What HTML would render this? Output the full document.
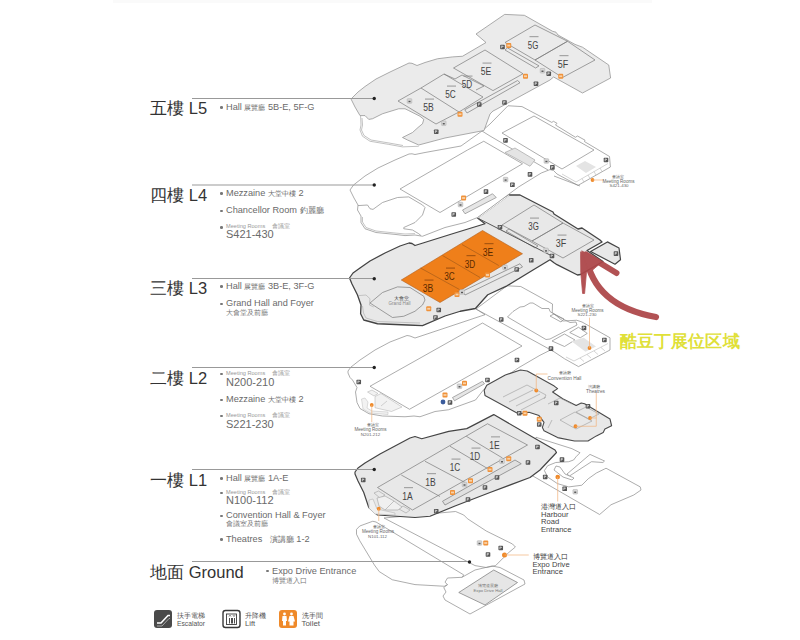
<!DOCTYPE html>
<html><head><meta charset="utf-8">
<style>
html,body{margin:0;padding:0;background:#fff;}
body{width:800px;height:640px;position:relative;overflow:hidden;font-family:"Liberation Sans",sans-serif;color:#555;}
.t{position:absolute;white-space:nowrap;line-height:1;}
.big{font-size:17px;color:#333;}
.big .e{font-size:16.5px;}
.it{font-size:10px;color:#666;}
.sm{font-size:5.5px;color:#888;}
.num{font-size:11.5px;color:#666;}
.b{position:absolute;width:2.6px;height:2.6px;border-radius:50%;background:#777;}
svg{position:absolute;left:0;top:0;font-family:"Liberation Sans",sans-serif;}
.it{font-size:9.2px;color:#6a6a6a;margin-top:-0.5px;}
.it .c{font-size:6.8px;}
.it .c2{font-size:7.5px;}
.sm{font-size:5.6px;color:#999;margin-top:-0.5px;}
.sm .c3{font-size:5.6px;margin-left:5px;}
.num{font-size:11px;color:#6a6a6a;margin-top:-1px;}
.cj{font-size:7px;color:#777;margin-top:-1px;}

</style></head><body>
<div id="topband" style="position:absolute;left:113px;top:0;width:539px;height:3px;background:#fafafa"></div>
<svg width="800" height="640" viewBox="0 0 800 640">

<!-- ===== GROUND ===== -->
<g fill="#fff" stroke="#8a8a8a" stroke-width="0.7" stroke-linejoin="round">
<path d="M356.5,529.4 L359.75,526 L372.75,521.25 L376,522 L463.75,574.9 L462,577.3 L447.5,578 L445,582.2 L447.5,584.6 L444.25,586.25 L415,584.6 L392.25,579.75 L379.25,571.6 L374.4,565 L359.75,540.75 L356.5,534.25 Z"/>
<path d="M384,518 L455.6,511.5 L463.75,515 L467.5,518.75 L486.25,531 L512.5,544 L515.4,547 L508.75,552.5 L503.2,558 L495.6,565.6 L486.25,567.5 L475,565.6 Z"/>
<path d="M462,577.3 L475,570 L492,566 L500,567.5 L524,580 L525,584 L470,614 L445,600 L443,596 L446,592 L443.75,587.5 L447.5,584.6" fill="none"/>
<path d="M458.75,592.5 L493.75,570 L517.5,582.5 L485,605 Z" fill="#e6e6e6" stroke="#777"/>
<path d="M536,437.3 L572,448.7 L580,452.75 L576,456.8 L573.6,460 L568.75,461.7 L555.75,462.5 L547.6,465.75 L544.4,470.6 L547.6,477 L557.4,483.6 L568.75,486.9 L581.75,485.25 L588.25,478.75 L596.4,473 L604.5,469 L606,468.2 L640.25,486.9 L641,490 L633.75,495 L611,504.75 L599.6,514.5 L524.9,471.4 Z"/>
<path d="M567,474 L590,454.4 L604.5,461 L602.9,462.5 L591.5,461.7 L569.5,476 Z" />
<path d="M554,470 L556,466 L560,467 L565,474 L574,478 L572,480 L563,477 Z"/>
</g>
<!-- ===== L1 ===== -->
<g stroke-linejoin="round">
<path d="M355,472 L358,468 L365,463 L380,454 L395,446 L410,438 L415,436.5 L421.75,438.75 L448.75,431.4 L466.75,428.6 L493.75,414.6 L555,450 L556.5,452.5 L540,470 L530,477.5 L490,492.5 L455,506 L430,516.25 L415,517.5 L377.5,515 L368.75,507.5 L363.75,492.5 L360,485 L358,481 L355,474 Z" fill="#e8e8e8" stroke="#444" stroke-width="1.2"/>
<g fill="none" stroke="#7a7a7a" stroke-width="0.7">
<path d="M377.5,487.5 L487.5,423.75 L527.5,445 L412.5,510 Z"/>
<path d="M401.25,475 L440,496.5 M425,461.25 L465,482.5 M450,446.25 L487.5,468.5 M466.25,436.25 L502.5,458"/>
<path d="M442.5,501.25 L515,460 L521.25,463.75 L445,505 Z" fill="#e0e0e0"/>
<path d="M374,493 L378.5,491 L385,495 L380,498 Z M399,509 L403,506 L410,510 L406,513 Z" stroke="#aaa"/>
<path d="M377,498 L385,496 L394,501 L402,507 L398,510 L385,510 L379,506 Z M385,510 L394,501" fill="#f0f0f0" stroke="#aaa"/>
<path d="M369,500 L373,499 L377,509 L395,513 L395,515 L375,514 L369,508 Z" fill="#f0f0f0" stroke="#bbb"/>
</g>
</g>
<!-- ===== L2 ===== -->
<g stroke-linejoin="round">
<path d="M348,371 L351,367 L360,360 L375,350 L390,342 L407,335.5 L410,336 L415,338 L485,314.7 L476,309 L507,285.8 L520.75,286.5 L552.5,304 L552.25,312.4 L562.75,321 L576.75,320.25 L582,322 L610,337.75 L610,350 L578.5,366.6 L564.5,358.75 L554,351.75 L550.5,350 L540,355.25 L519,367.5 L495,383.5 L483.75,389.5 L475.5,400 L448.5,409.75 L435,411.5 L420,416.75 L414,416 L405,416.75 L382.5,416 L369,413.75 L360,408.5 L357,402.5 L355.5,392 L357,387.5 L352.5,380 L350,377.5 L348,373 Z" fill="#fff" stroke="#8a8a8a" stroke-width="0.7"/>
<g fill="none" stroke="#8a8a8a" stroke-width="0.7">
<path d="M370,386.25 L482.5,323 L522,346 L409.5,409.25 Z"/>
<path d="M476,309 L550,349.5"/>
<path d="M452.5,397.5 L482.5,381.25 L484.5,383.75 L454.5,400.75 Z" fill="#e6e6e6"/>
<path d="M367.5,392 L372,390 L378,393.5 L374,396 Z M375,396.5 L381,393.5 L402,407 L391.5,411.5 L375,407.75 Z M381,406 L387,401" fill="#f2f2f2" stroke="#aaa" stroke-width="0.5"/>
<path d="M361.5,399 L365,398 L368,402 L367,408 L372,411 L388,412 L388,414.5 L370,413 L363,409 Z" fill="#f2f2f2" stroke="#bbb" stroke-width="0.5"/>
<path d="M507.5,317 L513,311.5 L520,307 L524,306.5 L530,303 L533,303 L542,308.5 L549,308.5 L550,311.5 L553,313.5 L565,320 L570,322.5 L576,322 L577,325 L550,339 L546,339.5 Z"/>
<path d="M550,316 L554,314 L564,319 L561,322 Z"/>
<path d="M552,341 L564.5,334 L575,340 L564.5,346.5 Z M569.75,332.5 L578.5,327.25 L587.25,333.4 L580.25,337.75 Z"/>
<path d="M566,357 L574,361 L608,343.5 M580,358 L584,361.5 M587,354.5 L591,358 M594,351 L598,354.5 M601,347.5 L605,351" stroke="#aaa" stroke-width="0.5"/>
</g>
<path d="M571.5,341.25 L583.75,337.75 L596,346.5 L585.5,351.75 Z" fill="#e4e4e4" stroke="none"/>
<path d="M484.2,390.3 L486.75,385.25 L505.3,375 L520.5,370 L527.25,371 L554.25,386.1 L557.6,388.6 L552.6,392 L562.7,398.75 L576.2,405.5 L581.25,403 L584.6,403.8 L610,419 L611.6,425.75 L604.9,429.1 L603.2,432.5 L596.4,435.9 L588,441 L574.5,441 L557.6,437.6 L544,430.8 L542.4,427.4 L544,422.4 L539,415.6 L529,412.25 L518.8,414 L485,395.4 Z" fill="#e8e8e8" stroke="#4a4a4a" stroke-width="1.1"/>
<g fill="none" stroke="#9a9a9a" stroke-width="0.6">
<path d="M503,397 L527,385 L546,395 L544,399 M509,402 L533,390 M516,406 L540,394 M521,410 L546,397 M548,404 L560,398 L572,404 M552,420 L548,428 M560,420 L575,412 L592,421 L576,429 Z M576,412 L586,407 L599,414 L589,419 Z"/>
</g>
</g>
<!-- ===== L3 ===== -->
<g stroke-linejoin="round">
<path d="M349.5,278 L353,273 L360,268 L370,261 L385,253 L400,246 L409,243 L412,243.5 L415,245.5 L423,243 L452.5,233.75 L485,223.75 L477.5,218 L509,195 L520,195 L553,212 L554,214 L578,229 L582,228 L600,240 L602,242 L587,250.5 L603,261.5 L580.5,274.5 L577.5,275 L557,264.7 L554,262.7 L550,259.7 L533,270 L507,285.8 L487.75,294.75 L475.4,308.5 L460.25,311.25 L445,316 L422.5,325.6 L407.5,325 L377.5,323.75 L363.75,320 L360.6,313.75 L361,305 L357.5,295 L352,284 Z" fill="#e8e8e8" stroke="#444" stroke-width="1.3"/>
<path d="M590.6,251.5 L607.4,241.9 L619,248 L620.5,259.7 L615,264.2 Z" fill="#e8e8e8" stroke="#444" stroke-width="1.2"/>
<g fill="none" stroke="#7a7a7a" stroke-width="0.7">
<path d="M502,225 L534,205 L563,223 L532,241 Z M532,241 L563,223 L594,240 L563,258 Z"/>
<path d="M506,231 L509,229 L538,246 L535,248 Z"/>
<path d="M462.5,291.25 L520,263.75 L522.5,267 L465,295 Z"/>
<path d="M370,303 L382.5,292.5 L397.5,286.9 L410,287.5 L423.75,296.25 L425,300 L422.5,305 L415,311.25 L403.75,316.25 L392.5,317.5 Z"/>
<path d="M358.75,295.6 L366,295 L370,298.75 L369.4,305 L373.75,307 M362.5,306 L363.5,313 L366,318 L377.5,321.5 L405,322.5 L420,323" stroke="#aaa" stroke-width="0.6"/>
</g>
<path d="M477.5,218 L509,195" stroke="#fff" stroke-width="1.5" fill="none"/><path d="M477.5,218 L487.5,206.5 L509,194.8" stroke="#8a8a8a" stroke-width="0.7" fill="none"/>
<path d="M477.5,218 L552,256" stroke="#555" stroke-width="1" fill="none"/>
<path d="M401.25,280 L482.5,230.5 L522.5,253.75 L440,302.5 Z" fill="#ef7f1a" stroke="#b06020" stroke-width="0.6"/>
<path d="M420.5,268 L459.5,289.5 M442.5,255.5 L480,277.5 M462,244.5 L498.75,265.5" stroke="#9a5518" stroke-width="0.6" fill="none"/>
</g>
<!-- ===== L4 ===== -->
<g stroke-linejoin="round">
<path d="M353.5,185 L365,176 L378,168 L395,160 L409,154 L412,153.8 L415,154.5 L425,152.5 L461,146 L482,131 L490,124 L508,105.75 L522,106.6 L551.75,122.4 L553.5,121.3 L557,123.3 L555.5,125 L575.4,137.25 L577.5,136 L585,140.2 L584.5,141.6 L609.5,156.5 L610.4,167 L578,185.4 L557,174 L553.5,170.5 L550,169.6 L541.25,173 L518.5,187 L477.5,217.5 L465,222.5 L445,227.5 L422.5,236.25 L415,235 L405,235.6 L395,234.4 L376,232.5 L365,228.75 L361,222.5 L361,216 L357.5,210 L358,205 L354,198 L350,190 Z" fill="#fff" stroke="#8a8a8a" stroke-width="0.7"/>
<g fill="none" stroke="#8a8a8a" stroke-width="0.7">
<path d="M358,205.6 L367.5,205 L370,208.75 L373,209.4 L382.5,202.5 L397.5,197.5 L408.75,196.9 L422.5,205 L425,207.5 L422.5,215 L415,222.5 L403.75,227.5 L403.75,228.75 L412.5,230 L418.75,233.75 L421,235.6"/>
<path d="M362.5,217 L362.5,222 L366,227.5 L376,231 L395,233 L405,234 L415,233.6" stroke="#aaa"/>
<path d="M400,189 L467.5,150 L483.75,141.25 L522.5,163.75 L440,212.5 Z"/>
<path d="M502,133 L534,116 L594,150 L562,169 Z"/>
<path d="M482,131 L490,136 L548,170"/>
<path d="M462.5,210 L492.5,193.75 L496.25,197.5 L465,213.75 Z" fill="#e6e6e6"/>
<path d="M554,176 L580,186"/>
</g>
<path d="M505,152.5 L515,148 L535,160 L530,166.25 Z" fill="#e4e4e4" stroke="#999" stroke-width="0.6"/>
<path d="M576,166 L585,161 L596,167 L586,173 Z" fill="#e4e4e4" stroke="none"/>
<path d="M562,174 L576,182 L608,163.5 M582,178.5 L584,182 M588,175 L590,178.5 M594,171.5 L596,175 M600,168 L602,171.5" stroke="#aaa" stroke-width="0.5" fill="none"/>

</g>
<!-- ===== L5 ===== -->
<g stroke-linejoin="round">
<path d="M360.6,116 L361,125 L360,130 L362.5,136.25 L370,141.25 L388.75,144.4 L402.5,146.9 L418.75,146.25 M362,118 L362.5,125 L361.5,130 L364,135.5 L371,140 L389,143 L403,145.5" fill="none" stroke="#999" stroke-width="0.6"/>
<path d="M351,99 L358,92 L365,86.5 L376,79 L390,72 L409,63 L412,63.3 L417,65.5 L425,62.5 L437.5,58.75 L452.5,56.9 L462.5,56.25 L486,42.5 L476,34 L504.7,14.4 L524.4,15.3 L552.5,31.25 L556,32.2 L558,35 L575,44.4 L582.5,47.2 L608.75,65 L610.6,78 L582.5,93 L553.6,77 L550,80 L496,109.5 L493,111 L490,114 L484,130.5 L445,138 L418.75,145 L407.5,140 L402.5,137.5 L412.5,132.5 L418,127.5 L422.5,123.75 L423.75,119.4 L420,116.25 L408.75,110.6 L405,108.75 L398.75,108.75 L382.5,113.75 L372.5,118.75 L368.75,119.4 L365,115.6 L360,115.6 L355,107 Z" fill="#ebebeb" stroke="#8a8a8a" stroke-width="0.7"/>
<g fill="none" stroke="#7a7a7a" stroke-width="0.7">
<path d="M398,101 L421,88 L459,112 L436,124 Z"/>
<path d="M421,88 L444,74 L483,97 L459,112"/>
<path d="M455,79 L462,75 L484,86 L476,90 M444,74 L455,79"/>
<path d="M453.5,68 L485,50 L523,73.75 L493,90.6 Z"/>
<path d="M505,42.5 L535,25 L567.5,41.25 L535,60 Z M535,60 L567.5,41.25 L595,60 L562.5,77.5 Z"/>
<path d="M464.75,109.75 L517.6,80.5 L520,82.75 L467,113 Z"/>
<path d="M505,50 L507.5,47.9 L539,65.9 L535.6,68 Z"/>
</g>
</g>
<!-- level lines -->
<g stroke="#999" stroke-width="1" fill="none">
<line x1="192" y1="98.5" x2="374" y2="98.5"/>
<line x1="192" y1="185" x2="374" y2="185"/>
<line x1="192" y1="278.5" x2="374" y2="278.5"/>
<line x1="192" y1="367.5" x2="374" y2="367.5"/>
<line x1="192" y1="469.5" x2="374" y2="469.5"/>
<line x1="192" y1="561.5" x2="469" y2="561.5"/>
</g>
<text x="428.5" y="111" text-anchor="middle" font-size="11.5" fill="#444" textLength="10.5" lengthAdjust="spacingAndGlyphs">5B</text>
<rect x="425.00" y="98.50" width="9" height="1.2" fill="#888" opacity="0.7"/>
<text x="450.5" y="98" text-anchor="middle" font-size="11.5" fill="#444" textLength="10.5" lengthAdjust="spacingAndGlyphs">5C</text>
<rect x="447.00" y="85.50" width="9" height="1.2" fill="#888" opacity="0.7"/>
<text x="467" y="88" text-anchor="middle" font-size="11.5" fill="#444" textLength="10.5" lengthAdjust="spacingAndGlyphs">5D</text>
<rect x="463.50" y="75.50" width="9" height="1.2" fill="#888" opacity="0.7"/>
<text x="486" y="75" text-anchor="middle" font-size="11.5" fill="#444" textLength="10.5" lengthAdjust="spacingAndGlyphs">5E</text>
<rect x="482.50" y="62.50" width="9" height="1.2" fill="#888" opacity="0.7"/>
<text x="533" y="48.5" text-anchor="middle" font-size="11.5" fill="#444" textLength="10.5" lengthAdjust="spacingAndGlyphs">5G</text>
<rect x="529.50" y="36.00" width="9" height="1.2" fill="#888" opacity="0.7"/>
<text x="563" y="67.5" text-anchor="middle" font-size="11.5" fill="#444" textLength="10.5" lengthAdjust="spacingAndGlyphs">5F</text>
<rect x="559.50" y="55.00" width="9" height="1.2" fill="#888" opacity="0.7"/>
<text x="428" y="292" text-anchor="middle" font-size="11.5" fill="#5a2a00" textLength="10.5" lengthAdjust="spacingAndGlyphs">3B</text>
<rect x="424.50" y="279.50" width="9" height="1.2" fill="#7a3a08" opacity="0.6"/>
<text x="449.5" y="280" text-anchor="middle" font-size="11.5" fill="#5a2a00" textLength="10.5" lengthAdjust="spacingAndGlyphs">3C</text>
<rect x="446.00" y="267.50" width="9" height="1.2" fill="#7a3a08" opacity="0.6"/>
<text x="470" y="267.5" text-anchor="middle" font-size="11.5" fill="#5a2a00" textLength="10.5" lengthAdjust="spacingAndGlyphs">3D</text>
<rect x="466.50" y="255.00" width="9" height="1.2" fill="#7a3a08" opacity="0.6"/>
<text x="488" y="255.5" text-anchor="middle" font-size="11.5" fill="#5a2a00" textLength="10.5" lengthAdjust="spacingAndGlyphs">3E</text>
<rect x="484.50" y="243.00" width="9" height="1.2" fill="#7a3a08" opacity="0.6"/>
<text x="533.5" y="230" text-anchor="middle" font-size="11.5" fill="#444" textLength="10.5" lengthAdjust="spacingAndGlyphs">3G</text>
<rect x="530.00" y="217.50" width="9" height="1.2" fill="#888" opacity="0.7"/>
<text x="561" y="247" text-anchor="middle" font-size="11.5" fill="#444" textLength="10.5" lengthAdjust="spacingAndGlyphs">3F</text>
<rect x="557.50" y="234.50" width="9" height="1.2" fill="#888" opacity="0.7"/>
<text x="407.5" y="499.5" text-anchor="middle" font-size="11.5" fill="#444" textLength="10.5" lengthAdjust="spacingAndGlyphs">1A</text>
<rect x="404.00" y="487.00" width="9" height="1.2" fill="#888" opacity="0.7"/>
<text x="430.5" y="485.5" text-anchor="middle" font-size="11.5" fill="#444" textLength="10.5" lengthAdjust="spacingAndGlyphs">1B</text>
<rect x="427.00" y="473.00" width="9" height="1.2" fill="#888" opacity="0.7"/>
<text x="455" y="471" text-anchor="middle" font-size="11.5" fill="#444" textLength="10.5" lengthAdjust="spacingAndGlyphs">1C</text>
<rect x="451.50" y="458.50" width="9" height="1.2" fill="#888" opacity="0.7"/>
<text x="475" y="460" text-anchor="middle" font-size="11.5" fill="#444" textLength="10.5" lengthAdjust="spacingAndGlyphs">1D</text>
<rect x="471.50" y="447.50" width="9" height="1.2" fill="#888" opacity="0.7"/>
<text x="494.5" y="448.75" text-anchor="middle" font-size="11.5" fill="#444" textLength="10.5" lengthAdjust="spacingAndGlyphs">1E</text>
<rect x="491.00" y="436.25" width="9" height="1.2" fill="#888" opacity="0.7"/>
<rect x="433.95" y="129.45" width="4.6" height="4.6" rx="0.7" fill="#555"/><path d="M435.35,133.05 L435.35,130.55 L437.15,131.15 L435.35,131.85" stroke="#eee" stroke-width="0.6" fill="none"/>
<rect x="476.95" y="102.20" width="4.6" height="4.6" rx="0.7" fill="#555"/><path d="M478.35,105.80 L478.35,103.30 L480.15,103.90 L478.35,104.60" stroke="#eee" stroke-width="0.6" fill="none"/>
<rect x="502.20" y="100.20" width="4.6" height="4.6" rx="0.7" fill="#555"/><path d="M503.60,103.80 L503.60,101.30 L505.40,101.90 L503.60,102.60" stroke="#eee" stroke-width="0.6" fill="none"/>
<rect x="533.70" y="81.45" width="4.6" height="4.6" rx="0.7" fill="#555"/><path d="M535.10,85.05 L535.10,82.55 L536.90,83.15 L535.10,83.85" stroke="#eee" stroke-width="0.6" fill="none"/>
<rect x="500.20" y="44.70" width="4.6" height="4.6" rx="0.7" fill="#555"/><path d="M501.60,48.30 L501.60,45.80 L503.40,46.40 L501.60,47.10" stroke="#eee" stroke-width="0.6" fill="none"/>
<rect x="546.45" y="71.45" width="4.6" height="4.6" rx="0.7" fill="#555"/><path d="M547.85,75.05 L547.85,72.55 L549.65,73.15 L547.85,73.85" stroke="#eee" stroke-width="0.6" fill="none"/>
<rect x="503.20" y="138.10" width="4.6" height="4.6" rx="0.7" fill="#555"/><path d="M504.60,141.70 L504.60,139.20 L506.40,139.80 L504.60,140.50" stroke="#eee" stroke-width="0.6" fill="none"/>
<rect x="550.10" y="165.10" width="4.6" height="4.6" rx="0.7" fill="#555"/><path d="M551.50,168.70 L551.50,166.20 L553.30,166.80 L551.50,167.50" stroke="#eee" stroke-width="0.6" fill="none"/>
<rect x="527.70" y="172.10" width="4.6" height="4.6" rx="0.7" fill="#555"/><path d="M529.10,175.70 L529.10,173.20 L530.90,173.80 L529.10,174.50" stroke="#eee" stroke-width="0.6" fill="none"/>
<rect x="510.10" y="182.50" width="4.6" height="4.6" rx="0.7" fill="#555"/><path d="M511.50,186.10 L511.50,183.60 L513.30,184.20 L511.50,184.90" stroke="#eee" stroke-width="0.6" fill="none"/>
<rect x="483.70" y="189.30" width="4.6" height="4.6" rx="0.7" fill="#555"/><path d="M485.10,192.90 L485.10,190.40 L486.90,191.00 L485.10,191.70" stroke="#eee" stroke-width="0.6" fill="none"/>
<rect x="603.70" y="157.70" width="4.6" height="4.6" rx="0.7" fill="#555"/><path d="M605.10,161.30 L605.10,158.80 L606.90,159.40 L605.10,160.10" stroke="#eee" stroke-width="0.6" fill="none"/>
<rect x="451.45" y="212.20" width="4.6" height="4.6" rx="0.7" fill="#555"/><path d="M452.85,215.80 L452.85,213.30 L454.65,213.90 L452.85,214.60" stroke="#eee" stroke-width="0.6" fill="none"/>
<rect x="497.70" y="224.90" width="4.6" height="4.6" rx="0.7" fill="#555"/><path d="M499.10,228.50 L499.10,226.00 L500.90,226.60 L499.10,227.30" stroke="#eee" stroke-width="0.6" fill="none"/>
<rect x="528.95" y="258.00" width="4.6" height="4.6" rx="0.7" fill="#555"/><path d="M530.35,261.60 L530.35,259.10 L532.15,259.70 L530.35,260.40" stroke="#eee" stroke-width="0.6" fill="none"/>
<rect x="514.45" y="267.20" width="4.6" height="4.6" rx="0.7" fill="#555"/><path d="M515.85,270.80 L515.85,268.30 L517.65,268.90 L515.85,269.60" stroke="#eee" stroke-width="0.6" fill="none"/>
<rect x="549.70" y="253.70" width="4.6" height="4.6" rx="0.7" fill="#555"/><path d="M551.10,257.30 L551.10,254.80 L552.90,255.40 L551.10,256.10" stroke="#eee" stroke-width="0.6" fill="none"/>
<rect x="436.45" y="307.70" width="4.6" height="4.6" rx="0.7" fill="#555"/><path d="M437.85,311.30 L437.85,308.80 L439.65,309.40 L437.85,310.10" stroke="#eee" stroke-width="0.6" fill="none"/>
<rect x="433.20" y="315.20" width="4.6" height="4.6" rx="0.7" fill="#555"/><path d="M434.60,318.80 L434.60,316.30 L436.40,316.90 L434.60,317.60" stroke="#eee" stroke-width="0.6" fill="none"/>
<rect x="613.70" y="251.30" width="4.6" height="4.6" rx="0.7" fill="#555"/><path d="M615.10,254.90 L615.10,252.40 L616.90,253.00 L615.10,253.70" stroke="#eee" stroke-width="0.6" fill="none"/>
<rect x="356.45" y="379.70" width="4.6" height="4.6" rx="0.7" fill="#555"/><path d="M357.85,383.30 L357.85,380.80 L359.65,381.40 L357.85,382.10" stroke="#eee" stroke-width="0.6" fill="none"/>
<rect x="498.95" y="317.20" width="4.6" height="4.6" rx="0.7" fill="#555"/><path d="M500.35,320.80 L500.35,318.30 L502.15,318.90 L500.35,319.60" stroke="#eee" stroke-width="0.6" fill="none"/>
<rect x="514.70" y="357.70" width="4.6" height="4.6" rx="0.7" fill="#555"/><path d="M516.10,361.30 L516.10,358.80 L517.90,359.40 L516.10,360.10" stroke="#eee" stroke-width="0.6" fill="none"/>
<rect x="485.20" y="377.70" width="4.6" height="4.6" rx="0.7" fill="#555"/><path d="M486.60,381.30 L486.60,378.80 L488.40,379.40 L486.60,380.10" stroke="#eee" stroke-width="0.6" fill="none"/>
<rect x="447.70" y="400.20" width="4.6" height="4.6" rx="0.7" fill="#555"/><path d="M449.10,403.80 L449.10,401.30 L450.90,401.90 L449.10,402.60" stroke="#eee" stroke-width="0.6" fill="none"/>
<rect x="548.70" y="346.30" width="4.6" height="4.6" rx="0.7" fill="#555"/><path d="M550.10,349.90 L550.10,347.40 L551.90,348.00 L550.10,348.70" stroke="#eee" stroke-width="0.6" fill="none"/>
<rect x="581.70" y="325.70" width="4.6" height="4.6" rx="0.7" fill="#555"/><path d="M583.10,329.30 L583.10,326.80 L584.90,327.40 L583.10,328.10" stroke="#eee" stroke-width="0.6" fill="none"/>
<rect x="602.10" y="337.70" width="4.6" height="4.6" rx="0.7" fill="#555"/><path d="M603.50,341.30 L603.50,338.80 L605.30,339.40 L603.50,340.10" stroke="#eee" stroke-width="0.6" fill="none"/>
<rect x="553.95" y="400.70" width="4.6" height="4.6" rx="0.7" fill="#555"/><path d="M555.35,404.30 L555.35,401.80 L557.15,402.40 L555.35,403.10" stroke="#eee" stroke-width="0.6" fill="none"/>
<rect x="585.70" y="403.95" width="4.6" height="4.6" rx="0.7" fill="#555"/><path d="M587.10,407.55 L587.10,405.05 L588.90,405.65 L587.10,406.35" stroke="#eee" stroke-width="0.6" fill="none"/>
<rect x="516.95" y="410.95" width="4.6" height="4.6" rx="0.7" fill="#555"/><path d="M518.35,414.55 L518.35,412.05 L520.15,412.65 L518.35,413.35" stroke="#eee" stroke-width="0.6" fill="none"/>
<rect x="536.95" y="422.20" width="4.6" height="4.6" rx="0.7" fill="#555"/><path d="M538.35,425.80 L538.35,423.30 L540.15,423.90 L538.35,424.60" stroke="#eee" stroke-width="0.6" fill="none"/>
<rect x="360.95" y="477.70" width="4.6" height="4.6" rx="0.7" fill="#555"/><path d="M362.35,481.30 L362.35,478.80 L364.15,479.40 L362.35,480.10" stroke="#eee" stroke-width="0.6" fill="none"/>
<rect x="433.95" y="508.95" width="4.6" height="4.6" rx="0.7" fill="#555"/><path d="M435.35,512.55 L435.35,510.05 L437.15,510.65 L435.35,511.35" stroke="#eee" stroke-width="0.6" fill="none"/>
<rect x="525.70" y="460.20" width="4.6" height="4.6" rx="0.7" fill="#555"/><path d="M527.10,463.80 L527.10,461.30 L528.90,461.90 L527.10,462.60" stroke="#eee" stroke-width="0.6" fill="none"/>
<rect x="535.20" y="444.70" width="4.6" height="4.6" rx="0.7" fill="#555"/><path d="M536.60,448.30 L536.60,445.80 L538.40,446.40 L536.60,447.10" stroke="#eee" stroke-width="0.6" fill="none"/>
<rect x="494.70" y="475.20" width="4.6" height="4.6" rx="0.7" fill="#555"/><path d="M496.10,478.80 L496.10,476.30 L497.90,476.90 L496.10,477.60" stroke="#eee" stroke-width="0.6" fill="none"/>
<rect x="482.70" y="485.20" width="4.6" height="4.6" rx="0.7" fill="#555"/><path d="M484.10,488.80 L484.10,486.30 L485.90,486.90 L484.10,487.60" stroke="#eee" stroke-width="0.6" fill="none"/>
<rect x="465.70" y="497.20" width="4.6" height="4.6" rx="0.7" fill="#555"/><path d="M467.10,500.80 L467.10,498.30 L468.90,498.90 L467.10,499.60" stroke="#eee" stroke-width="0.6" fill="none"/>
<rect x="498.45" y="545.70" width="4.6" height="4.6" rx="0.7" fill="#555"/><path d="M499.85,549.30 L499.85,546.80 L501.65,547.40 L499.85,548.10" stroke="#eee" stroke-width="0.6" fill="none"/>
<rect x="485.70" y="552.20" width="4.6" height="4.6" rx="0.7" fill="#555"/><path d="M487.10,555.80 L487.10,553.30 L488.90,553.90 L487.10,554.60" stroke="#eee" stroke-width="0.6" fill="none"/>
<rect x="559.70" y="457.30" width="4.6" height="4.6" rx="0.7" fill="#555"/><path d="M561.10,460.90 L561.10,458.40 L562.90,459.00 L561.10,459.70" stroke="#eee" stroke-width="0.6" fill="none"/>
<rect x="542.90" y="474.70" width="4.6" height="4.6" rx="0.7" fill="#555"/><path d="M544.30,478.30 L544.30,475.80 L546.10,476.40 L544.30,477.10" stroke="#eee" stroke-width="0.6" fill="none"/>
<rect x="562.40" y="486.50" width="4.6" height="4.6" rx="0.7" fill="#555"/><path d="M563.80,490.10 L563.80,487.60 L565.60,488.20 L563.80,488.90" stroke="#eee" stroke-width="0.6" fill="none"/>
<rect x="407.20" y="98.70" width="4.6" height="4.6" rx="0.7" fill="#d6d6d6" stroke="#aaa" stroke-width="0.5"/><rect x="408.50" y="100.80" width="2" height="1.4" fill="#555"/>
<rect x="441.45" y="120.95" width="4.6" height="4.6" rx="0.7" fill="#d6d6d6" stroke="#aaa" stroke-width="0.5"/><rect x="442.75" y="123.05" width="2" height="1.4" fill="#555"/>
<rect x="540.20" y="68.45" width="4.6" height="4.6" rx="0.7" fill="#d6d6d6" stroke="#aaa" stroke-width="0.5"/><rect x="541.50" y="70.55" width="2" height="1.4" fill="#555"/>
<rect x="544.10" y="158.70" width="4.6" height="4.6" rx="0.7" fill="#d6d6d6" stroke="#aaa" stroke-width="0.5"/><rect x="545.40" y="160.80" width="2" height="1.4" fill="#555"/>
<rect x="503.30" y="177.30" width="4.6" height="4.6" rx="0.7" fill="#d6d6d6" stroke="#aaa" stroke-width="0.5"/><rect x="504.60" y="179.40" width="2" height="1.4" fill="#555"/>
<rect x="458.20" y="202.20" width="4.6" height="4.6" rx="0.7" fill="#d6d6d6" stroke="#aaa" stroke-width="0.5"/><rect x="459.50" y="204.30" width="2" height="1.4" fill="#555"/>
<rect x="543.70" y="248.10" width="4.6" height="4.6" rx="0.7" fill="#d6d6d6" stroke="#aaa" stroke-width="0.5"/><rect x="545.00" y="250.20" width="2" height="1.4" fill="#555"/>
<rect x="502.70" y="265.10" width="4.6" height="4.6" rx="0.7" fill="#d6d6d6" stroke="#aaa" stroke-width="0.5"/><rect x="504.00" y="267.20" width="2" height="1.4" fill="#555"/>
<rect x="459.70" y="289.70" width="4.6" height="4.6" rx="0.7" fill="#d6d6d6" stroke="#aaa" stroke-width="0.5"/><rect x="461.00" y="291.80" width="2" height="1.4" fill="#555"/>
<rect x="457.20" y="383.95" width="4.6" height="4.6" rx="0.7" fill="#d6d6d6" stroke="#aaa" stroke-width="0.5"/><rect x="458.50" y="386.05" width="2" height="1.4" fill="#555"/>
<rect x="462.20" y="482.20" width="4.6" height="4.6" rx="0.7" fill="#d6d6d6" stroke="#aaa" stroke-width="0.5"/><rect x="463.50" y="484.30" width="2" height="1.4" fill="#555"/>
<rect x="499.70" y="458.95" width="4.6" height="4.6" rx="0.7" fill="#d6d6d6" stroke="#aaa" stroke-width="0.5"/><rect x="501.00" y="461.05" width="2" height="1.4" fill="#555"/>
<rect x="477.20" y="540.70" width="4.6" height="4.6" rx="0.7" fill="#d6d6d6" stroke="#aaa" stroke-width="0.5"/><rect x="478.50" y="542.80" width="2" height="1.4" fill="#555"/>
<rect x="572.95" y="489.45" width="4.6" height="4.6" rx="0.7" fill="#d6d6d6" stroke="#aaa" stroke-width="0.5"/><rect x="574.25" y="491.55" width="2" height="1.4" fill="#555"/>
<rect x="457.50" y="111.75" width="5" height="5" rx="0.9" fill="#f0923a"/><rect x="458.50" y="113.35" width="3" height="1.8" fill="#f8d2a8"/>
<rect x="523.00" y="73.75" width="5" height="5" rx="0.9" fill="#f0923a"/><rect x="524.00" y="75.35" width="3" height="1.8" fill="#f8d2a8"/>
<rect x="506.25" y="43.00" width="5" height="5" rx="0.9" fill="#f0923a"/><rect x="507.25" y="44.60" width="3" height="1.8" fill="#f8d2a8"/>
<rect x="558.25" y="73.75" width="5" height="5" rx="0.9" fill="#f0923a"/><rect x="559.25" y="75.35" width="3" height="1.8" fill="#f8d2a8"/>
<rect x="461.10" y="195.50" width="5" height="5" rx="0.9" fill="#f0923a"/><rect x="462.10" y="197.10" width="3" height="1.8" fill="#f8d2a8"/>
<rect x="485.00" y="272.50" width="5" height="5" rx="0.9" fill="#f0923a"/><rect x="486.00" y="274.10" width="3" height="1.8" fill="#f8d2a8"/>
<rect x="454.50" y="292.00" width="5" height="5" rx="0.9" fill="#f0923a"/><rect x="455.50" y="293.60" width="3" height="1.8" fill="#f8d2a8"/>
<rect x="426.25" y="306.25" width="5" height="5" rx="0.9" fill="#f0923a"/><rect x="427.25" y="307.85" width="3" height="1.8" fill="#f8d2a8"/>
<rect x="462.00" y="380.75" width="5" height="5" rx="0.9" fill="#f0923a"/><rect x="463.00" y="382.35" width="3" height="1.8" fill="#f8d2a8"/>
<rect x="442.50" y="392.50" width="5" height="5" rx="0.9" fill="#f0923a"/><rect x="443.50" y="394.10" width="3" height="1.8" fill="#f8d2a8"/>
<rect x="522.50" y="410.75" width="5" height="5" rx="0.9" fill="#f0923a"/><rect x="523.50" y="412.35" width="3" height="1.8" fill="#f8d2a8"/>
<rect x="536.75" y="416.75" width="5" height="5" rx="0.9" fill="#f0923a"/><rect x="537.75" y="418.35" width="3" height="1.8" fill="#f8d2a8"/>
<rect x="450.00" y="490.00" width="5" height="5" rx="0.9" fill="#f0923a"/><rect x="451.00" y="491.60" width="3" height="1.8" fill="#f8d2a8"/>
<rect x="468.00" y="478.25" width="5" height="5" rx="0.9" fill="#f0923a"/><rect x="469.00" y="479.85" width="3" height="1.8" fill="#f8d2a8"/>
<rect x="487.50" y="467.00" width="5" height="5" rx="0.9" fill="#f0923a"/><rect x="488.50" y="468.60" width="3" height="1.8" fill="#f8d2a8"/>
<rect x="506.25" y="456.25" width="5" height="5" rx="0.9" fill="#f0923a"/><rect x="507.25" y="457.85" width="3" height="1.8" fill="#f8d2a8"/>
<rect x="483.25" y="540.50" width="5" height="5" rx="0.9" fill="#f0923a"/><rect x="484.25" y="542.10" width="3" height="1.8" fill="#f8d2a8"/>
<circle cx="443" cy="402" r="2.4" fill="#3b5c9c"/>
<circle cx="374.25" cy="98.5" r="1.7" fill="#222"/>
<circle cx="374.25" cy="185" r="1.7" fill="#222"/>
<circle cx="374.25" cy="278.75" r="1.7" fill="#222"/>
<circle cx="374.25" cy="367.5" r="1.7" fill="#222"/>
<circle cx="374.25" cy="469.5" r="1.7" fill="#222"/>
<circle cx="469.5" cy="562" r="1.7" fill="#222"/>
<circle cx="592.5" cy="180" r="1.9" fill="#ef8a2a"/>
<path d="M592.5,180 L604,180" stroke="#f2b27a" stroke-width="0.7" fill="none"/>
<text x="618" y="177.5" text-anchor="middle" font-size="3.8" fill="#666">會議室</text>
<text x="618.5" y="182.5" text-anchor="middle" font-size="4.6" fill="#666">Meeting Rooms</text>
<text x="619" y="187" text-anchor="middle" font-size="4.4" fill="#666">S421-430</text>
<circle cx="371.75" cy="405" r="1.9" fill="#ef8a2a"/>
<path d="M371.75,405 L371.75,422" stroke="#f2b27a" stroke-width="0.7" fill="none"/>
<text x="373" y="425.5" text-anchor="middle" font-size="3.8" fill="#666">會議室</text>
<text x="370.5" y="431" text-anchor="middle" font-size="4.6" fill="#666">Meeting Rooms</text>
<text x="370.5" y="436" text-anchor="middle" font-size="4.4" fill="#666">N201-212</text>
<circle cx="589.5" cy="348" r="1.9" fill="#ef8a2a"/>
<path d="M589.5,348 L589.5,317.6" stroke="#f2b27a" stroke-width="0.7" fill="none"/>
<text x="588" y="306.5" text-anchor="middle" font-size="3.8" fill="#666">會議室</text>
<text x="587.5" y="311.5" text-anchor="middle" font-size="4.6" fill="#666">Meeting Rooms</text>
<text x="587" y="316" text-anchor="middle" font-size="4.4" fill="#666">S221-230</text>
<circle cx="536.25" cy="390.5" r="1.9" fill="#ef8a2a"/>
<path d="M536.25,390.5 L536.25,374 L547.5,374" stroke="#f2b27a" stroke-width="0.7" fill="none"/>
<text x="565" y="373.5" text-anchor="middle" font-size="3.8" fill="#666">會議廳</text>
<text x="564.5" y="379.5" text-anchor="middle" font-size="4.8" fill="#666">Convention Hall</text>
<circle cx="590" cy="418" r="1.9" fill="#ef8a2a"/>
<circle cx="575.5" cy="426.25" r="1.9" fill="#ef8a2a"/>
<path d="M596.25,393 L596.25,426.25 L575.5,426.25 M590,418 L596.25,418" stroke="#f2b27a" stroke-width="0.7" fill="none"/>
<text x="594" y="387.5" text-anchor="middle" font-size="3.8" fill="#666">演講廳</text>
<text x="595.5" y="392.5" text-anchor="middle" font-size="4.8" fill="#666">Theatres</text>
<circle cx="378.75" cy="508.75" r="1.9" fill="#ef8a2a"/>
<path d="M378.75,508.75 L378.75,521" stroke="#f2b27a" stroke-width="0.7" fill="none"/>
<text x="379" y="527.5" text-anchor="middle" font-size="3.8" fill="#666">會議室</text>
<text x="378" y="533" text-anchor="middle" font-size="4.6" fill="#666">Meeting Rooms</text>
<text x="377.5" y="538" text-anchor="middle" font-size="4.4" fill="#666">N101-112</text>
<circle cx="557.7" cy="477" r="2.3" fill="#ef8a2a"/>
<path d="M557.7,477 L557.7,501.5" stroke="#f2b27a" stroke-width="0.7" fill="none"/>
<text x="541" y="508.8" text-anchor="start" font-size="6.8" fill="#333">港灣道入口</text>
<text x="541" y="516.5" text-anchor="start" font-size="7.6" fill="#444">Harbour</text>
<text x="541" y="524" text-anchor="start" font-size="7.6" fill="#444">Road</text>
<text x="541" y="531.5" text-anchor="start" font-size="7.6" fill="#444">Entrance</text>
<circle cx="504.5" cy="555" r="2.5" fill="#ef8a2a"/>
<path d="M504.5,555 L528.75,555" stroke="#f2b27a" stroke-width="0.7" fill="none"/>
<text x="532.5" y="558.8" text-anchor="start" font-size="6.8" fill="#333">博覽道入口</text>
<text x="532.5" y="566.5" text-anchor="start" font-size="7.6" fill="#444">Expo Drive</text>
<text x="532.5" y="573.5" text-anchor="start" font-size="7.6" fill="#444">Entrance</text>
<text x="488" y="587" text-anchor="middle" font-size="3.8" fill="#777">博覽道展廳</text>
<text x="488" y="592" text-anchor="middle" font-size="4.2" fill="#777">Expo Drive Hall</text>
<text x="401" y="299.5" text-anchor="middle" font-size="4.6" fill="#444">大會堂</text>
<text x="399.5" y="304.5" text-anchor="middle" font-size="4.6" fill="#888">Grand Hall</text><g fill="none" stroke="#ad4548" stroke-linecap="round" stroke-linejoin="round" opacity="0.93">
<path d="M656,317 Q594,306 586,256" stroke-width="6.2"/>
<path d="M586,254.5 L616.5,273" stroke-width="6"/>
<path d="M580.8,252 L588.5,254 L586.5,272 L584.6,293.5 L582.6,293.5 L580.8,273 Z" fill="#ad4548" stroke-width="0.8"/>
<path d="M582,251 L602,262 L589,273 Z" fill="#ad4548" stroke-width="0.8"/>
</g>
<text x="619.5" y="346.5" font-size="16.8" font-weight="bold" fill="#e0e038" letter-spacing="0.2">酷豆丁展位区域</text>
<g>
<rect x="154" y="610" width="18" height="18" rx="3" fill="#4a4a4a"/>
<path d="M157,623 L161,623 L168,615.5 L170,615.5" stroke="#fff" stroke-width="1.6" fill="none"/>
<path d="M157,626 L162,626 L169,618.5 L170,618.5" stroke="#bbb" stroke-width="0.8" fill="none"/>
<rect x="223" y="610.5" width="17" height="17" rx="2.5" fill="#fff" stroke="#3a3a3a" stroke-width="1.4"/>
<rect x="226.5" y="614" width="10" height="10.5" fill="none" stroke="#3a3a3a" stroke-width="0.9"/>
<path d="M229,616.5 L230,615.2 L231,616.5 M233,615.2 L234,616.5 L235,615.2" stroke="#3a3a3a" stroke-width="0.7" fill="none"/>
<path d="M229.5,618 L229.5,623.5 M231.5,618 L231.5,623.5 M232.5,618 L232.5,623.5 M234.5,618 L234.5,623.5" stroke="#3a3a3a" stroke-width="0.9"/>
<rect x="279" y="610" width="18" height="18" rx="3" fill="#ef8a2a"/>
<circle cx="284.5" cy="614" r="1.4" fill="#fff"/><circle cx="291.5" cy="614" r="1.4" fill="#fff"/>
<path d="M282.5,616 L286.5,616 L287,621 L286,621 L286,625.5 L283,625.5 L283,621 L282,621 Z" fill="#fff"/>
<path d="M289.5,616 L293.5,616 L295,621.5 L293.5,621.5 L293.5,625.5 L289.5,625.5 L289.5,621.5 L288,621.5 Z" fill="#fff"/>
<text x="177" y="617.8" font-size="7.4" fill="#555">扶手電梯</text>
<text x="177" y="626.2" font-size="7.6" fill="#555" textLength="28" lengthAdjust="spacingAndGlyphs">Escalator</text>
<text x="245" y="617.8" font-size="7.4" fill="#555">升降機</text>
<text x="245" y="626.2" font-size="7.6" fill="#555">Lift</text>
<text x="301.5" y="617.8" font-size="7.4" fill="#555">洗手間</text>
<text x="301.5" y="626.2" font-size="7.6" fill="#555" textLength="18.5" lengthAdjust="spacingAndGlyphs">Toilet</text>
</g>

</svg>
<div class="t big" style="left:150px;top:100px">五樓 <span class="e">L5</span></div>
<div class="t big" style="left:150px;top:187px">四樓 <span class="e">L4</span></div>
<div class="t big" style="left:150px;top:280px">三樓 <span class="e">L3</span></div>
<div class="t big" style="left:150px;top:370px">二樓 <span class="e">L2</span></div>
<div class="t big" style="left:150px;top:472px">一樓 <span class="e">L1</span></div>
<div class="t big" style="left:150px;top:564px">地面 <span class="e">Ground</span></div>
<div class="t it" style="left:226px;top:103.8px">Hall <span class="c">展覽廳</span> 5B-E, 5F-G</div>
<div class="b" style="left:220px;top:106.1px"></div>
<div class="t it" style="left:226px;top:189.0px">Mezzaine <span class="c">大堂中樓</span> 2</div>
<div class="b" style="left:220px;top:192.2px"></div>
<div class="t it" style="left:226px;top:206.0px">Chancellor Room <span class="c2">釣麗廳</span></div>
<div class="b" style="left:220px;top:209.5px"></div>
<div class="t sm" style="left:226px;top:224.5px">Meeting Rooms <span class="c3">會議室</span></div>
<div class="b" style="left:220px;top:226.0px"></div>
<div class="t num" style="left:226px;top:230.0px">S421-430</div>
<div class="t it" style="left:226px;top:282.5px">Hall <span class="c">展覽廳</span> 3B-E, 3F-G</div>
<div class="b" style="left:220px;top:285.2px"></div>
<div class="t it" style="left:226px;top:299.5px">Grand Hall and Foyer</div>
<div class="b" style="left:220px;top:302.5px"></div>
<div class="t cj" style="left:226px;top:309.5px">大會堂及前廳</div>
<div class="t sm" style="left:226px;top:371.0px">Meeting Rooms <span class="c3">會議室</span></div>
<div class="b" style="left:220px;top:372.5px"></div>
<div class="t num" style="left:226px;top:377.5px">N200-210</div>
<div class="t it" style="left:226px;top:395.0px">Mezzaine <span class="c">大堂中樓</span> 2</div>
<div class="b" style="left:220px;top:398.5px"></div>
<div class="t sm" style="left:226px;top:413.0px">Meeting Rooms <span class="c3">會議室</span></div>
<div class="b" style="left:220px;top:414.5px"></div>
<div class="t num" style="left:226px;top:420.0px">S221-230</div>
<div class="t it" style="left:226px;top:474.0px">Hall <span class="c">展覽廳</span> 1A-E</div>
<div class="b" style="left:220px;top:477.2px"></div>
<div class="t sm" style="left:226px;top:490.0px">Meeting Rooms <span class="c3">會議室</span></div>
<div class="b" style="left:220px;top:491.5px"></div>
<div class="t num" style="left:226px;top:496.0px">N100-112</div>
<div class="t it" style="left:226px;top:511.0px">Convention Hall &amp; Foyer</div>
<div class="b" style="left:220px;top:514.5px"></div>
<div class="t cj" style="left:226px;top:521.0px">會議室及前廳</div>
<div class="t it" style="left:226px;top:535.0px">Theatres <span class="c2" style="margin-left:5px">演講廳</span> 1-2</div>
<div class="b" style="left:220px;top:538.0px"></div>
<div class="t it" style="left:272px;top:567.0px">Expo Drive Entrance</div>
<div class="b" style="left:266px;top:569.5px"></div>
<div class="t cj" style="left:272px;top:578.0px">博覽道入口</div>
</body></html>
